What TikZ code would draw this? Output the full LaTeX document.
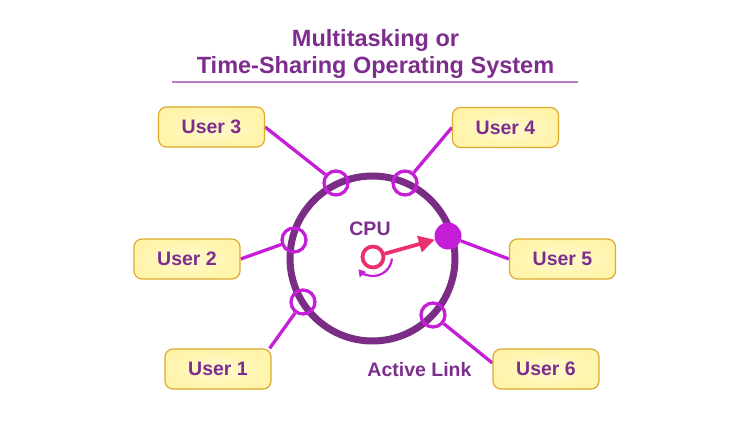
\documentclass[tikz,border=0pt]{standalone}
\usepackage{fontspec}
\setmainfont{Liberation Sans}
\usetikzlibrary{arrows.meta,backgrounds}
\pgfdeclarelayer{paper}
\pgfsetlayers{paper,background,main}
\definecolor{titlepurple}{HTML}{7D2E8C}
\definecolor{ringpurple}{HTML}{7B2D86}
\definecolor{magentaone}{HTML}{C41ED8}
\definecolor{cpupink}{HTML}{EC2F6F}
\definecolor{boxfill}{HTML}{FFF4AA}
\definecolor{boxinner}{HTML}{FFF9CC}
\definecolor{boxborder}{HTML}{DDAA2E}
\definecolor{rulecol}{HTML}{B87CC6}
\begin{document}
\begin{tikzpicture}[x=1pt,y=1pt,
  userbox/.style={draw=boxborder,line width=1.2pt,inner color=boxinner,outer color=boxfill,rounded corners=8pt,
    minimum width=106pt,minimum height=40pt,inner sep=0pt,
    font=\bfseries\fontsize{19.5}{22}\selectfont,text=titlepurple},
  port/.style={circle,draw=magentaone,line width=3.3pt,minimum size=24pt,inner sep=0pt},
  activeport/.style={circle,fill=magentaone,minimum size=27pt,inner sep=0pt},
  link/.style={draw=magentaone,line width=3.3pt},
  titletext/.style={font=\bfseries\fontsize{23.5}{27}\selectfont,text=titlepurple,anchor=base,inner sep=0pt},
  label/.style={font=\bfseries\fontsize{19.5}{22}\selectfont,text=titlepurple,anchor=base,inner sep=0pt},
  ring/.style={circle,draw=ringpurple,line width=7pt,minimum size=165pt,inner sep=0pt},
  cpucircle/.style={circle,draw=cpupink,line width=3.8pt,minimum size=21pt,inner sep=0pt},
]
\useasboundingbox (0,0) rectangle (750,432);
\begin{pgfonlayer}{paper}
\fill[white] (0,0) rectangle (750,432);
\end{pgfonlayer}

% title
\node[titletext] (t1) at (375.5,385) {Multitasking or};
\node[titletext] (t2) at (375.5,358) {Time-Sharing Operating System};
\coordinate (rl) at (172,350);
\coordinate (rr) at (578,350);
\draw[rulecol,line width=1.3pt] (rl) -- (rr);

% ring
\node[ring] (ring) at (372.5,173.5) {};

% ports
\node[port] (c3) at (336,249) {};
\node[port] (c4) at (405,249) {};
\node[port] (c2) at (294,192) {};
\node[activeport] (c5) at (448,196) {};
\node[port] (c1) at (303,130) {};
\node[port] (c6) at (433,117) {};

% users
\node[userbox] (u3) at (211.5,305) {User 3};
\node[userbox] (u4) at (505.5,304.5) {User 4};
\node[userbox] (u2) at (187,173) {User 2};
\node[userbox] (u5) at (562.5,173) {User 5};
\node[userbox] (u1) at (218,63) {User 1};
\node[userbox] (u6) at (546,63) {User 6};

\begin{scope}[on background layer]
\draw[link] (c3) -- (u3.east);
\draw[link] (c4) -- (u4.west);
\draw[link] (c2) -- (u2.east);
\draw[link] (c5) -- (u5.west);
\draw[link] (c1) -- ([xshift=-2pt]u1.north east);
\draw[link] (c6) -- ([yshift=6pt]u6.west);
\end{scope}

% CPU
\node[label] (cpulabel) at (370,197) {CPU};
\node[cpucircle] (cpu) at (373,175) {};
\draw[cpupink,line width=3.8pt,-{Triangle[length=16pt,width=16pt]}] (cpu) -- (c5);
\draw[magentaone,line width=2.2pt,-{Triangle[length=7pt,width=8pt]}]
  ([shift={(-5:19)}]cpu.center) arc[start angle=-5,end angle=-140,radius=19];

\node[label] (active) at (419.5,56) {Active Link};
\end{tikzpicture}
\end{document}
